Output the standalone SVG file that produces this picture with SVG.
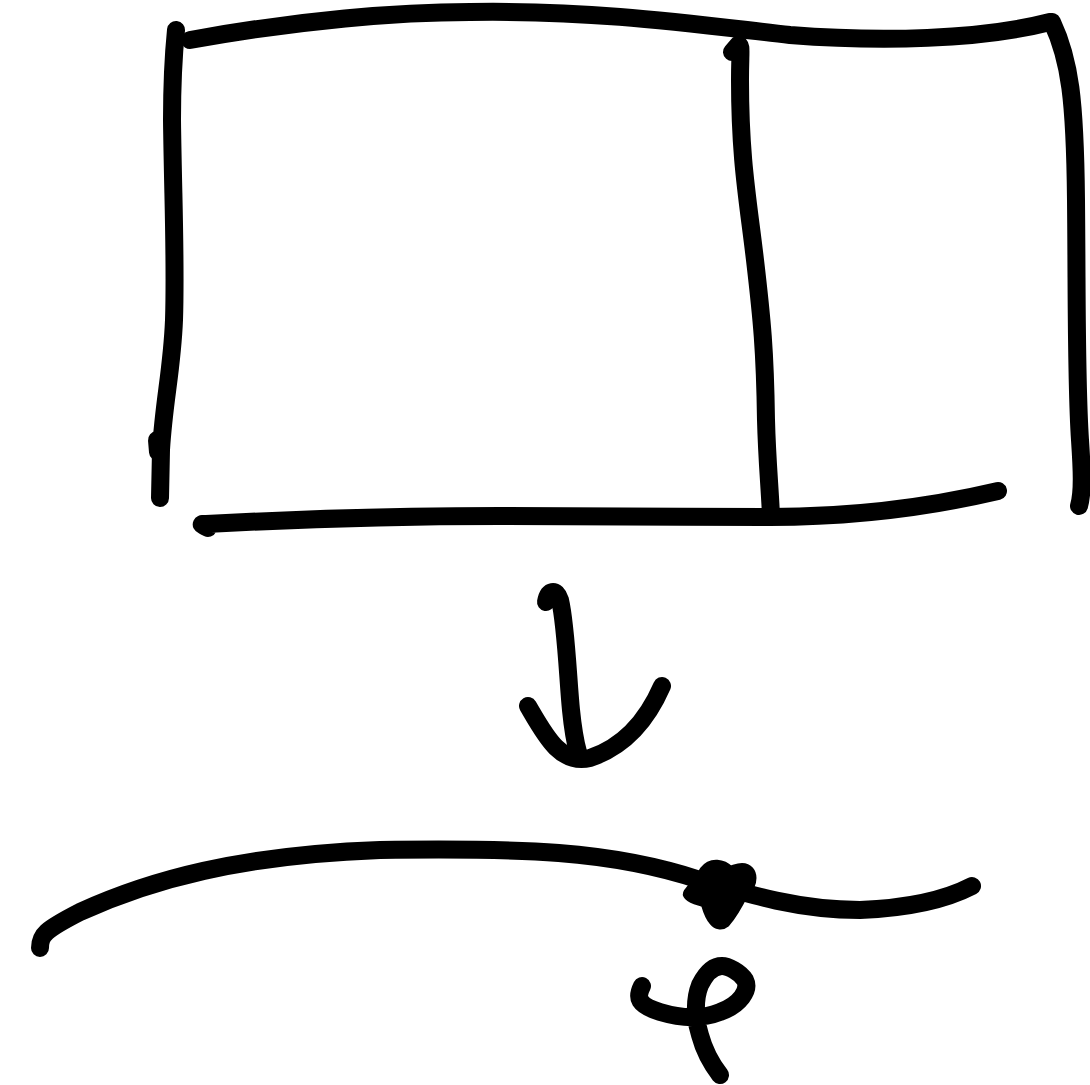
<svg xmlns="http://www.w3.org/2000/svg" width="1090" height="1085" viewBox="0 0 1090 1085">
<style>
.s{fill:none;stroke:#000;stroke-width:18;stroke-linecap:round;stroke-linejoin:round}
.f{fill:#000;stroke:#000;stroke-width:14;stroke-linejoin:round}
</style>
<rect width="1090" height="1085" fill="#fff"/>
<g id="sketch">
<path class="s" d="M176,30 C173,60 172,80 172,120 C173,200 176,260 174,320 C172,370 164,400 161,450 L160,498"/>
<path class="s" d="M157,440 L158,452"/>
<path class="s" d="M190,40 C300,20 400,12 470,12 C600,10 700,25 790,35 C880,42 980,40 1050,22"/>
<path class="s" d="M1052,22 C1070,60 1075,100 1076,200 C1077,300 1076,380 1080,440 C1082,470 1083,492 1079,506"/>
<path class="s" d="M732,52 L738,45 C742,45 740,50 740,80 C740,160 748,200 755,260 C762,320 765,350 766,420 C767,460 770,490 771,516"/>
<path class="s" d="M208,528 C200,524 200,524 206,524 C300,519 400,516 500,516 C600,516 680,517 770,517 C850,517 930,507 998,491"/>
<path class="s" d="M546,602 C548,590 556,588 560,600 C566,625 568,680 571,710 C573,730 576,745 578,752"/>
<path class="s" d="M528,706 C545,735 560,765 590,758 C620,748 645,725 662,686"/>
<path class="s" d="M40,948 C40,935 45,930 80,912 C150,880 240,855 380,850 C520,848 610,850 700,880 C750,895 800,910 860,910 C910,908 945,900 972,886"/>
<path class="f" d="M690,894 C696,900 706,898 708,904 C712,918 718,926 724,921 C732,912 738,900 742,892 C752,884 752,870 742,870 C736,870 732,874 728,872 C722,866 712,864 706,872 C702,880 694,888 690,894 Z"/>
<path class="s" d="M642,986 C636,998 638,1005 660,1012 C680,1018 700,1020 720,1012 C740,1005 750,990 745,980 C740,972 728,966 722,966 C712,966 705,975 700,985 C694,1000 695,1020 700,1035 C704,1050 710,1062 720,1075"/>
</g>
</svg>
